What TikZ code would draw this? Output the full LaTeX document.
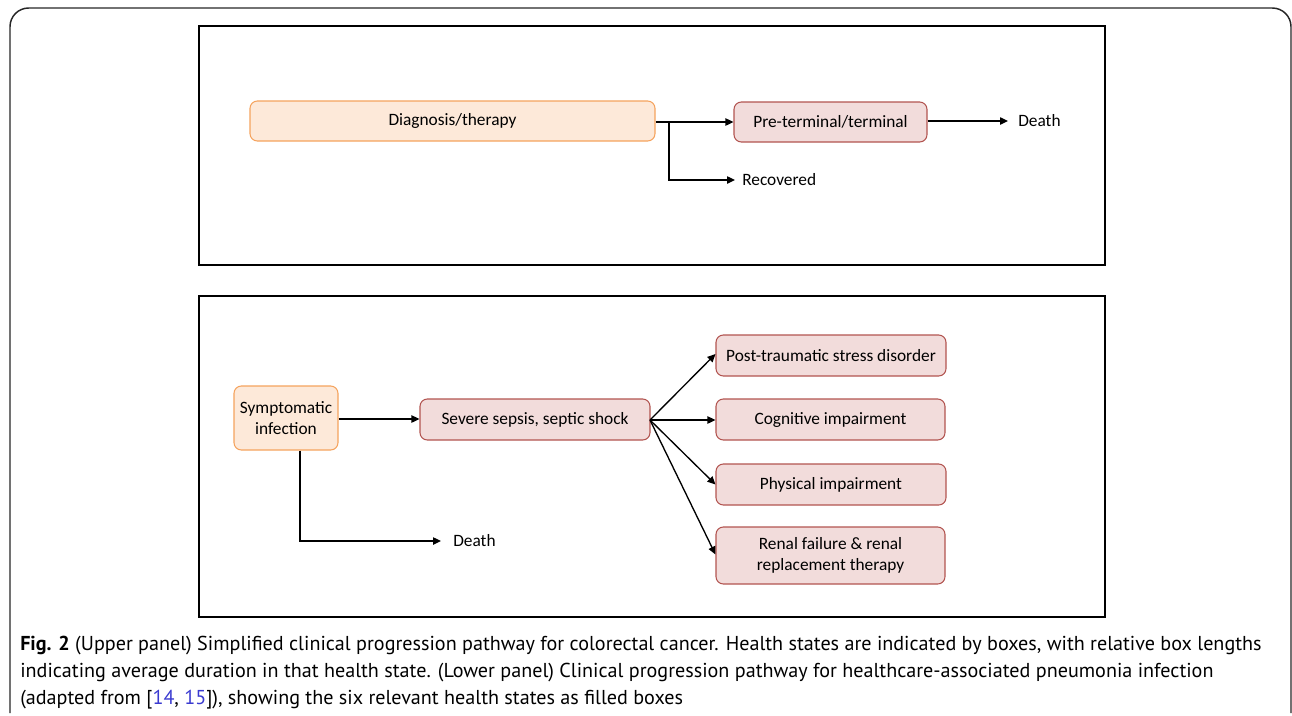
\documentclass[tikz,border=0pt]{standalone}
\usepackage{fontspec}
\setmainfont{Carlito}
\newfontfamily\capfont{PT Sans}
\usetikzlibrary{arrows.meta}
\definecolor{orangeline}{HTML}{F5A35E}
\definecolor{orangefill}{HTML}{FDE9D9}
\definecolor{redline}{HTML}{B25450}
\definecolor{redfill}{HTML}{F2DCDB}
\definecolor{linkblue}{HTML}{3A3AD0}
\tikzset{
  statebox/.style={draw=redline, fill=redfill, rounded corners=5.5pt, line width=0.8pt, inner sep=0pt, align=center, font=\fontsize{13}{15.5}\selectfont},
  startbox/.style={draw=orangeline, fill=orangefill, rounded corners=5.5pt, line width=0.8pt, inner sep=0pt, align=center, font=\fontsize{13}{15.5}\selectfont},
  panel/.style={draw=black, line width=1.5pt},
  lbl/.style={anchor=west, inner sep=0pt, font=\fontsize{13}{15.5}\selectfont},
  arr/.style={line width=1pt, -{Triangle[length=6pt,width=5.5pt]}},
  plain/.style={line width=1pt}
}
\begin{document}
\begin{tikzpicture}[x=0.75pt,y=-0.75pt]
\useasboundingbox (0,0) rectangle (1292,715);
% outer frame
\draw[line width=1.1pt, rounded corners=14pt, black!85] (10,713) -- (10,8) -- (1291,8) -- (1291,713);
% panels
\draw[panel] (199,26) rectangle (1105,265);
\draw[panel] (199,296) rectangle (1105,617);
% upper panel nodes
\node[startbox, minimum width=405*0.75pt, minimum height=40*0.75pt] (diag) at (452.5,121) {\raisebox{-1.5pt}{Diagnosis/therapy}};
\node[statebox, minimum width=193*0.75pt, minimum height=40*0.75pt] (pre) at (830.5,122) {Pre-terminal/terminal};
\node[lbl] (death1) at (1018,121) {Death};
\node[lbl] (rec) at (742,180) {Recovered};
\coordinate (br) at (669,122);
\draw[arr] (diag.east |- br) -- (pre.west |- br);
\draw[arr] (br) |- ([xshift=-7*0.75pt]rec.west);
\draw[arr] (pre.east |- death1.west) -- ([xshift=-10*0.75pt]death1.west);
% lower panel nodes
\node[startbox, minimum width=104*0.75pt, minimum height=64*0.75pt] (sympt) at (286,418) {Symptomatic\\infection};
\node[statebox, minimum width=230*0.75pt, minimum height=41*0.75pt] (sepsis) at (535,419.5) {Severe sepsis, septic shock};
\node[statebox, minimum width=230*0.75pt, minimum height=41*0.75pt] (ptsd) at (831,355.5) {Post-traumatic stress disorder};
\node[statebox, minimum width=229*0.75pt, minimum height=41*0.75pt] (cog) at (830.5,419.5) {Cognitive impairment};
\node[statebox, minimum width=230*0.75pt, minimum height=41*0.75pt] (phys) at (831,484.5) {Physical impairment};
\node[statebox, minimum width=229*0.75pt, minimum height=57*0.75pt] (renal) at (830.5,555.5) {Renal failure \& renal\\replacement therapy};
\node[lbl] (death2) at (453,541) {Death};
\draw[arr] (sympt.east |- 0,419) -- (sepsis.west |- 0,419);
\coordinate (fan) at (650,420);
\draw[arr] (fan) -- ([yshift=1.5*0.75pt]ptsd.west);
\draw[arr] (fan) -- (cog.west |- fan);
\draw[arr] (fan) -- (phys.west);
\draw[arr] (fan) -- ([yshift=1*0.75pt]renal.west);
\coordinate (dn) at (300,541);
\draw[arr] (sympt.south -| dn) |- ([xshift=-12*0.75pt]death2.west);
% caption
\node[anchor=west, inner sep=0pt, font=\capfont\fontsize{15.1}{20.25}\selectfont, align=left] (cap) at (20,673) {%
\textbf{Fig. 2} (Upper panel) Simplified clinical progression pathway for colorectal cancer. Health states are indicated by boxes, with relative box lengths\\
indicating average duration in that health state. (Lower panel) Clinical progression pathway for healthcare-associated pneumonia infection\\
(adapted from [\textcolor{linkblue}{14}, \textcolor{linkblue}{15}]), showing the six relevant health states as filled boxes};
\end{tikzpicture}
\end{document}
